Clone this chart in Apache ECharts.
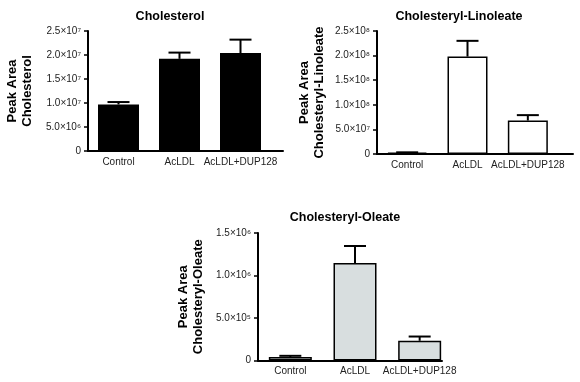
<!DOCTYPE html>
<html><head><meta charset="utf-8">
<script src="https://cdn.jsdelivr.net/npm/echarts@6/dist/echarts.min.js"></script>
<style>html,body{margin:0;padding:0;background:#fff}#c{width:580px;height:382px}</style>
</head><body><div id="c"></div>
<script>
const categories = ['Control', 'AcLDL', 'AcLDL+DUP128'];
const cholMean = [0.97e7, 1.92e7, 2.04e7];
const cholSem = [0.05e7, 0.13e7, 0.28e7];
const linMean = [0.03e8, 1.98e8, 0.68e8];
const linSem = [0.004e8, 0.32e8, 0.11e8];
const oleMean = [0.04e6, 1.147e6, 0.232e6];
const oleSem = [0.015e6, 0.2e6, 0.05e6];
const cholTicks = ['0', '5.0×10⁶', '1.0×10⁷', '1.5×10⁷', '2.0×10⁷', '2.5×10⁷'];
const linTicks = ['0', '5.0×10⁷', '1.0×10⁸', '1.5×10⁸', '2.0×10⁸', '2.5×10⁸'];
const oleTicks = ['0', '5.0×10⁵', '1.0×10⁶', '1.5×10⁶'];
const titles = ['Cholesterol', 'Cholesteryl-Linoleate', 'Cholesteryl-Oleate'];
const yNames = ['Peak Area\nCholesterol', 'Peak Area\nCholesteryl-Linoleate', 'Peak Area\nCholesteryl-Oleate'];

const FONT = 'Liberation Sans, Arial, sans-serif';
const panels = [
  {mean: cholMean, sem: cholSem, ticks: cholTicks, interval: 0.5e7, max: 2.5e7,
   grid: {left: 88, top: 31, width: 183, height: 120}, lineW: 195, barW: 41,
   fill: '#000', title: {x: 165, y: 5}, nameGap: 53},
  {mean: linMean, sem: linSem, ticks: linTicks, interval: 0.5e8, max: 2.5e8,
   grid: {left: 377, top: 31, width: 181, height: 123}, lineW: 196, barW: 40,
   fill: '#fff', title: {x: 454, y: 5}, nameGap: 50},
  {mean: oleMean, sem: oleSem, ticks: oleTicks, interval: 0.5e6, max: 1.5e6,
   grid: {left: 258, top: 233, width: 194, height: 127.5}, lineW: 184, barW: 43,
   fill: '#d8dedf', title: {x: 340, y: 206}, nameGap: 52}
];

const grid = [], xAxis = [], yAxis = [], series = [], title = [];
panels.forEach((p, i) => {
  grid.push(Object.assign({}, p.grid));
  title.push({text: titles[i], left: p.title.x, top: p.title.y, textAlign: 'center',
    textStyle: {fontFamily: FONT, fontSize: 12.5, fontWeight: 'bold', color: '#000'}});
  xAxis.push({type: 'category', gridIndex: i, data: categories,
    axisLine: {show: false}, axisTick: {show: false},
    axisLabel: {fontFamily: FONT, fontSize: 10, color: '#222', margin: 6, interval: 0}});
  yAxis.push({type: 'value', gridIndex: i, min: 0, max: p.max, interval: p.interval,
    name: yNames[i], nameLocation: 'middle', nameGap: p.nameGap, nameRotate: 90,
    nameTextStyle: {fontFamily: FONT, fontSize: 13, fontWeight: 'bold', color: '#000', lineHeight: 15},
    axisLine: {show: true, lineStyle: {color: '#000', width: 2}},
    axisTick: {show: true, length: 4, lineStyle: {color: '#000', width: 1.5}},
    splitLine: {show: false},
    axisLabel: {fontFamily: FONT, fontSize: 10, color: '#222', margin: 7,
      formatter: (v) => p.ticks[Math.round(v / p.interval)]}});
  series.push({type: 'bar', xAxisIndex: i, yAxisIndex: i, data: p.mean, barWidth: p.barW,
    itemStyle: {color: p.fill, borderColor: '#000', borderWidth: 1.5}, z: 2});
  series.push({type: 'custom', xAxisIndex: i, yAxisIndex: i, z: 3,
    data: p.mean.map((m, k) => [k, m, m + p.sem[k]]),
    encode: {x: 0, y: [1, 2]},
    renderItem: (params, api) => {
      const a = api.coord([api.value(0), api.value(1)]);
      const b = api.coord([api.value(0), api.value(2)]);
      const st = {stroke: '#000', lineWidth: 2};
      return {type: 'group', children: [
        {type: 'line', shape: {x1: a[0], y1: a[1], x2: b[0], y2: b[1]}, style: st},
        {type: 'line', shape: {x1: b[0] - 11, y1: b[1], x2: b[0] + 11, y2: b[1]}, style: st}
      ]};
    }});
});
// axis baselines (x axis line drawn in its own grid so it may extend past the categories)
panels.forEach((p, i) => {
  const gi = 3 + i;
  grid.push({left: p.grid.left, top: p.grid.top, width: p.lineW, height: p.grid.height});
  xAxis.push({type: 'value', gridIndex: gi, min: 0, max: 1,
    axisLine: {show: true, onZero: false, lineStyle: {color: '#000', width: 2}},
    axisTick: {show: false}, axisLabel: {show: false}, splitLine: {show: false}});
  yAxis.push({type: 'value', gridIndex: gi, show: false, min: 0, max: 1});
});

const chart = echarts.init(document.getElementById('c'), null, {renderer: 'canvas'});
chart.setOption({animation: false, backgroundColor: '#fff', title, grid, xAxis, yAxis, series});
</script></body></html>
